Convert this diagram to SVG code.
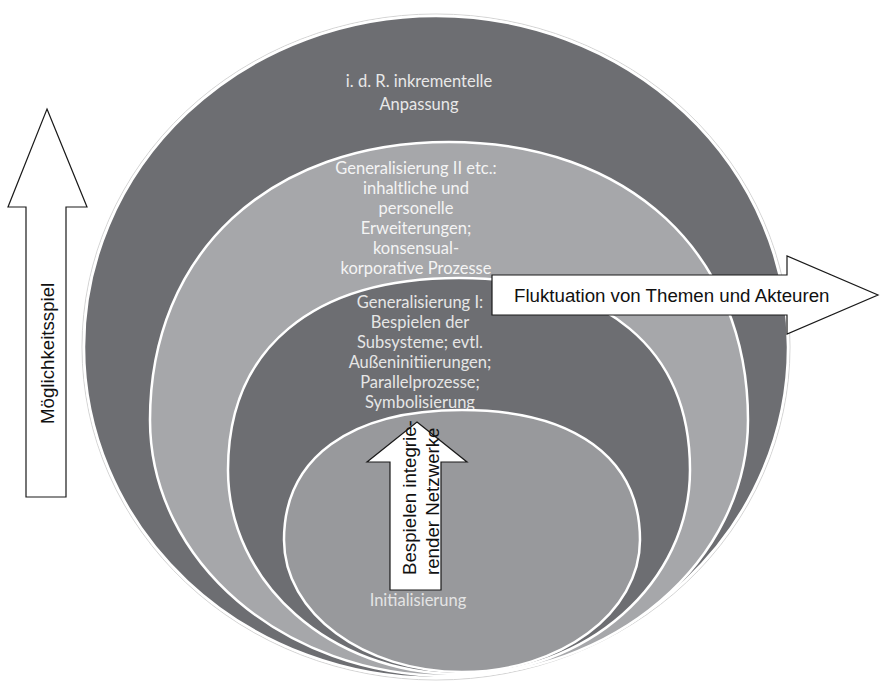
<svg xmlns="http://www.w3.org/2000/svg" width="880" height="682" viewBox="0 0 880 682">
<style>
.ring{stroke:#ffffff;stroke-width:2.5}
.dark{fill:#6d6e72}
.light{fill:#a6a7aa}
.mid{fill:#98999c}
.lbl{font-family:Lato,"Open Sans",sans-serif;font-size:16.5px;text-anchor:middle}
.arr{fill:#ffffff;stroke:#1a1a1a;stroke-width:1.2}
.atext{font-family:"Liberation Sans",Arial,sans-serif;font-size:18.7px;fill:#111111}
</style>
<rect width="880" height="682" fill="#ffffff"/>
<g id="outer">
<ellipse cx="436" cy="347" rx="354" ry="333" fill="none" stroke="#d4d4d4" stroke-width="1"/>
<ellipse class="dark ring" cx="436" cy="347" rx="352" ry="331"/>
<text class="lbl" fill="#e8e8e8" x="419" y="87">i. d. R. inkrementelle</text>
<text class="lbl" fill="#e8e8e8" x="419" y="110">Anpassung</text>
</g>
<g id="gen2">
<path class="light ring" d="M150,420 C150,253.2 269.6,142 449,142 C628.4,142 748,253.2 748,420 C748,561.3 614,676 449,676 C284,676 150,561.3 150,420 Z"/>
<text class="lbl" fill="#f4f4f4" x="416" y="174">Generalisierung II etc.:</text>
<text class="lbl" fill="#f4f4f4" x="416" y="194">inhaltliche und</text>
<text class="lbl" fill="#f4f4f4" x="416" y="214">personelle</text>
<text class="lbl" fill="#f4f4f4" x="416" y="234">Erweiterungen;</text>
<text class="lbl" fill="#f4f4f4" x="416" y="254">konsensual-</text>
<text class="lbl" fill="#f4f4f4" x="416" y="274">korporative Prozesse</text>
</g>
<g id="gen1">
<path class="dark ring" d="M228,470 C228,349 312.2,278 459,278 C605.8,278 690,349 690,470 C690,582.6 587.6,674 459,674 C330.4,674 228,582.6 228,470 Z"/>
<text class="lbl" fill="#e6e6e6" x="420" y="308">Generalisierung I:</text>
<text class="lbl" fill="#e6e6e6" x="420" y="328">Bespielen der</text>
<text class="lbl" fill="#e6e6e6" x="420" y="348">Subsysteme; evtl.</text>
<text class="lbl" fill="#e6e6e6" x="420" y="368">Außeninitiierungen;</text>
<text class="lbl" fill="#e6e6e6" x="420" y="388">Parallelprozesse;</text>
<text class="lbl" fill="#e6e6e6" x="420" y="408">Symbolisierung</text>
</g>
<g id="init">
<path class="mid ring" d="M284,540 C284,458.1 349.9,410 462,410 C574.1,410 640,458.1 640,540 C640,612.9 560.3,672 462,672 C363.7,672 284,612.9 284,540 Z"/>
<text class="lbl" fill="#e4e4e4" x="418" y="606">Initialisierung</text>
</g>
<g id="connectors">
<g id="arrow-moeglichkeit">
<polygon class="arr" points="47,109 87,207 66,207 66,497 26,497 26,207 8,207"/>
<text class="atext" transform="translate(54,424) rotate(-90)">Möglichkeitsspiel</text>
</g>
<g id="arrow-fluktuation">
<polygon class="arr" points="492,275 787,275 787,256 878,295 787,334 787,315 492,315"/>
<text class="atext" x="514" y="302">Fluktuation von Themen und Akteuren</text>
</g>
<g id="arrow-bespielen">
<polygon class="arr" points="417,422 467,462 441,462 441,590 390,590 390,462 367,462"/>
<text class="atext" font-size="18.4" transform="translate(416,575) rotate(-90)">Bespielen integrie-</text>
<text class="atext" font-size="18.4" transform="translate(439,575) rotate(-90)">render Netzwerke</text>
</g>
</g>
</svg>
